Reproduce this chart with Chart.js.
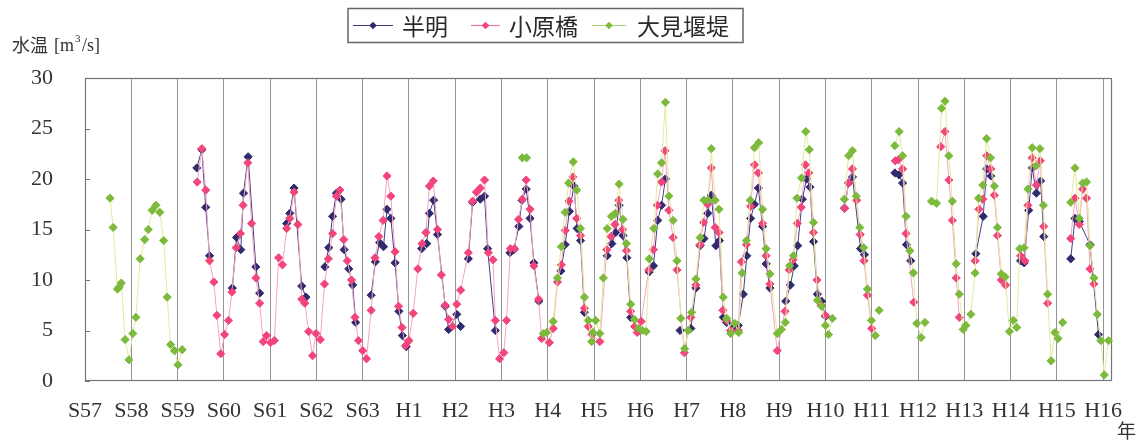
<!DOCTYPE html>
<html><head><meta charset="utf-8">
<script src="https://cdn.jsdelivr.net/npm/chart.js@4.4.1/dist/chart.umd.min.js"></script>
<style>html,body{margin:0;padding:0;background:#fff;}canvas{display:block;}</style>
</head><body>
<canvas id="c" width="1145" height="444"></canvas>
<script>
// x = months since start of S57, y = value
const categories = ['S57','S58','S59','S60','S61','S62','S63','H1','H2','H3','H4','H5','H6','H7','H8','H9','H10','H11','H12','H13','H14','H15','H16'];
const yTicks = [0,5,10,15,20,25,30];
const seriesNames = ['半明','小原橋','大見堰堤'];

const hanmeiMonth = [29.0,30.3,31.3,32.3,35,38.2,39.3,40.4,41.1,42.3,44.3,45.3,49,52.3,53.1,54.2,56.2,57.3,60,62.2,63.2,64.2,65.2,66.4,67.2,68.4,69.4,70.2,72,74.2,75.3,76.4,77.4,78.3,79.3,80.4,81.4,82.3,83.3,85,87.3,88.6,89.3,90.4,91.4,93.4,94.3,96.4,97.4,98.5,99.4,100.5,102.5,103.6,104.4,106.4,108,110.2,111.2,112.5,113.3,114.4,115.4,116.4,117.7,120,123.4,124.5,125.6,126.8,127.6,128.5,129.5,132,135.4,136.6,137.6,138.5,139.5,140.5,141.5,144,146.3,147.4,148.5,149.5,150.5,152,154.3,157.1,158.4,159.5,160.5,161.5,162.4,163.6,164.5,165.5,166.4,168.3,169.4,170.7,171.6,172.6,173.6,174.6,175.7,176.6,177.6,179.5,181.7,182.9,183.9,184.8,186.0,187.1,188.0,188.9,189.9,191.0,192.0,194,196.9,198.0,199.0,201.1,202.1,206,210.0,211.1,212.0,213.0,214.1,222,231.0,232.9,233.8,234.9,238,242.6,243.5,244.7,245.6,246.7,247.8,248.6,252,255.6,256.7,257.8,260.6,262.8];
const hanmeiTemp = [21.1,22.9,17.2,12.4,null,9.2,14.2,13.0,18.6,22.2,11.3,8.7,null,15.6,16.6,19.1,9.4,8.3,null,11.3,13.2,16.3,18.6,18.0,13.0,11.1,9.5,5.8,null,8.5,11.8,13.7,13.3,17.0,16.1,11.7,6.9,4.5,3.4,null,13.1,13.6,16.6,17.9,14.5,7.4,5.1,6.6,5.4,null,12.1,17.7,18.0,18.3,13.1,5.0,null,12.7,13.0,15.3,17.9,19.0,16.1,11.7,7.9,null,10.9,13.5,16.8,19.3,15.1,13.9,6.8,null,12.4,13.6,14.7,17.4,14.4,12.2,6.3,null,10.8,11.4,15.9,17.4,20.0,null,5.0,5.2,9.2,13.4,14.1,16.6,18.4,13.4,13.9,6.3,5.8,5.3,5.5,8.6,12.4,16.1,17.5,19.1,15.3,11.6,9.2,null,7.9,9.5,11.4,13.4,18.0,20.0,19.2,13.8,8.6,7.9,6.4,null,17.1,19.6,20.2,13.1,12.5,null,20.6,20.4,19.6,13.5,11.9,null,12.6,16.3,21.0,20.3,null,11.9,11.7,16.9,21.1,18.6,19.8,14.3,null,12.1,16.1,15.8,13.5,4.6];

const oharaMonth = [29.1,30.3,31.3,32.3,33.4,34.2,35.2,36.2,37.2,38.1,39.2,40.3,41.0,42.2,43.2,44.3,45.3,46.2,47.1,48.1,49.1,50.2,51.2,52.3,53.1,54.2,55.2,56.2,57.0,58.0,59.0,59.9,61.0,62.1,63.1,64.2,65.2,66.1,67.1,68.0,69.1,70.0,70.9,72.0,73.0,74.2,75.2,76.2,77.3,78.3,79.3,80.4,81.3,82.2,83.1,84.0,85.1,86.3,87.4,88.4,89.3,90.3,91.4,92.4,93.4,94.3,95.3,96.4,97.4,99.4,100.5,101.5,102.5,103.6,104.6,105.8,106.4,107.5,108.6,109.3,110.3,111.4,112.4,113.4,114.4,115.4,116.4,117.6,118.4,120.4,121.4,122.5,123.5,124.5,125.5,126.5,127.5,128.5,129.5,130.5,131.5,133.5,135.3,136.4,137.4,138.4,139.4,140.4,141.5,142.5,143.2,144.2,146.2,147.4,148.4,149.5,150.4,151.4,152.5,153.5,155.4,157.1,158.4,159.5,160.4,161.4,162.4,163.4,164.4,165.4,166.4,167.4,169.4,170.2,171.5,172.6,173.6,174.6,175.7,176.6,177.6,179.5,181.5,182.6,183.6,184.7,185.7,186.8,187.7,188.9,189.8,190.9,192.0,194,197.0,198.0,199.0,200.1,201.0,202.0,202.9,204.0,207,210.1,210.9,212.0,212.9,214.9,218,221.9,223.0,224.0,224.9,225.9,226.7,228.5,230.8,231.8,232.8,233.8,234.9,235.8,236.6,237.6,238.7,240.5,242.6,243.7,244.5,245.6,246.7,247.7,248.6,249.6,252,255.6,256.7,257.8,258.7,259.7,260.6,261.6];
const oharaTemp = [19.7,23.0,18.9,11.9,9.8,6.5,2.7,4.6,6.0,8.8,13.2,14.6,17.4,21.6,15.6,10.2,7.7,3.9,4.5,3.8,4.0,12.2,11.5,15.1,16.1,18.7,15.5,8.1,7.7,4.9,2.5,4.7,4.1,9.6,12.1,14.6,18.3,18.9,14.0,11.9,10.0,6.3,4.0,3.0,2.2,7.0,12.2,14.3,15.9,20.3,18.3,12.8,7.4,5.3,3.5,4.0,6.7,11.1,13.6,14.7,19.3,19.8,15.0,10.5,7.5,6.1,5.4,7.6,9.0,12.7,17.8,18.7,19.1,19.9,12.7,12.0,6.0,2.2,2.8,6.0,13.1,13.1,16.0,18.0,19.9,17.0,11.4,8.1,4.2,3.8,5.2,9.8,11.5,14.9,17.8,20.2,16.1,14.4,7.2,5.4,4.6,3.9,13.0,14.3,15.5,17.9,15.0,12.9,6.9,5.4,4.8,5.9,11.0,13.0,17.4,19.7,22.8,16.9,14.2,11.0,2.8,6.3,9.5,13.5,15.7,17.5,21.1,15.2,14.7,7.0,6.0,5.0,5.0,11.8,13.5,17.3,21.4,20.6,15.6,12.4,9.6,3.0,6.9,11.0,12.0,15.6,17.2,21.4,20.6,14.7,10.0,7.5,6.5,null,17.1,19.6,21.0,17.9,14.5,11.9,8.5,5.2,null,21.8,21.9,21.0,14.6,7.8,null,23.2,24.7,19.9,15.9,10.2,6.3,null,11.9,17.0,18.0,22.3,21.0,18.4,14.4,10.0,9.5,null,12.4,11.9,17.4,22.1,19.4,21.8,15.3,7.7,null,14.1,18.1,15.5,19.0,18.1,11.1,9.6];

const omiMonth = [6.5,7.3,8.4,8.9,9.4,10.4,11.4,12.4,13.2,14.3,15.5,16.4,17.4,18.4,19.4,20.4,21.3,22.2,23.2,24.1,25.2,60,113.4,114.5,116,118.8,119.7,121.4,122.5,123.5,124.5,125.4,126.6,127.5,128.5,129.5,130.5,131.4,131.7,132.4,133.5,134.4,135.4,136.5,137.5,138.5,139.5,140.4,141.5,142.5,143.5,144.5,145.5,146.3,147.5,148.5,149.5,150.5,151.4,152.5,153.5,154.5,155.5,156.4,157.3,158.4,159.5,160.5,161.6,162.4,163.4,164.4,165.5,166.4,167.4,168.5,169.5,170.4,171.5,172.5,173.6,174.7,175.7,176.6,177.6,179.5,180.6,181.6,182.7,183.7,184.6,185.8,186.9,187.8,188.9,189.9,191.0,192.0,192.8,193.8,195,196.9,198.0,199.0,200.0,200.9,201.9,202.9,203.9,204.9,205.4,205.9,208,210.0,211.1,212.0,212.9,213.9,214.8,215.7,216.8,217.8,218.6,219.5,220.8,222.1,223.0,224.0,224.9,225.9,226.7,227.7,228.4,229.7,230.8,231.7,232.8,233.8,234.8,235.8,236.6,237.6,238.6,239.7,240.7,241.6,242.4,243.5,244.5,245.6,246.6,247.6,248.5,249.6,250.5,251.5,252.3,253.5,254.5,255.6,256.7,257.8,258.7,259.7,260.6,261.6,262.5,263.4,264.3,265.4];
const omiTemp = [18.1,15.2,9.1,9.3,9.7,4.1,2.1,4.7,6.3,12.1,14.0,15.0,16.9,17.4,16.7,13.9,8.3,3.6,3.0,1.6,3.1,null,22.1,22.1,null,4.7,4.8,5.9,10.2,13.3,16.7,19.6,21.7,18.9,15.1,8.3,6.0,3.9,4.8,6.0,4.7,10.2,15.1,16.3,16.6,19.5,16.0,13.6,7.6,6.1,5.2,5.0,4.9,12.1,15.1,20.5,21.6,27.6,18.3,15.9,11.9,6.2,3.2,5.0,6.8,10.1,14.2,17.9,17.9,23.0,17.9,17.0,8.3,6.2,4.7,5.7,4.8,10.7,13.9,17.9,23.1,23.6,17.0,13.1,10.6,4.7,5.1,5.8,11.4,12.4,18.1,20.1,24.7,22.9,15.7,8.0,7.4,5.5,4.6,6.2,null,18.0,22.3,22.8,18.3,15.2,13.2,9.1,6.0,4.5,null,7.0,null,23.3,24.7,22.3,16.3,12.9,10.7,5.7,4.3,5.8,null,17.8,17.6,27.0,27.7,22.3,17.8,11.6,8.6,5.1,5.5,6.6,10.7,18.1,19.4,24.0,22.1,19.3,15.2,10.6,10.3,4.9,6.0,5.3,13.1,13.2,19.0,23.1,21.3,23.0,17.4,8.6,2.0,4.8,4.2,5.8,null,17.7,21.1,16.1,19.6,19.7,13.4,10.2,6.6,4.0,0.6,4.0];

const xMaxMonth = 266.3;

function pts(xs, ys){ return xs.map((x,i)=>({x:x, y:ys[i]})); }

const serifFont = '"Liberation Serif", "DejaVu Serif", serif';
const cjkFont = '"Noto Sans CJK JP", "Noto Sans", sans-serif';

function ds(label, xs, ys, lineColor, markColor, order){
  return {label, data: pts(xs, ys), showLine: true, spanGaps: false,
    borderColor: lineColor, borderWidth: 1, backgroundColor: markColor,
    pointStyle: 'rectRot', pointRadius: 4.1, pointBorderWidth: 1,
    pointBackgroundColor: markColor, pointBorderColor: markColor,
    order, clip: 8};
}

const colors = [
  {line:'#3f3d86', mark:'#2f2c6e'},
  {line:'#f7a3c0', mark:'#f2457c'},
  {line:'#e2eb98', mark:'#7cba3c'}
];

const decor = {
  id:'decor',
  beforeDatasetsDraw(chart){
    const {ctx, chartArea:a, scales:{y}} = chart;
    ctx.save();
    ctx.strokeStyle = '#777';
    ctx.lineWidth = 1.2;
    ctx.strokeRect(a.left+0.5, a.top+0.5, a.right-a.left-1, a.bottom-a.top-1);
    ctx.beginPath();
    yTicks.forEach(v=>{ const py = Math.round(y.getPixelForValue(v))+0.5; ctx.moveTo(a.left, py); ctx.lineTo(a.left+5, py); });
    ctx.stroke();
    ctx.restore();
  },
  afterDraw(chart){
    const ctx = chart.ctx;
    ctx.save();
    ctx.fillStyle = '#333';
    ctx.textBaseline = 'middle';
    ctx.font = '18px ' + cjkFont;
    ctx.fillText('水温', 12, 45);
    ctx.font = '18px ' + serifFont;
    ctx.fillText('[m', 54, 46);
    const w1 = ctx.measureText('[m').width;
    ctx.font = '11px ' + serifFont;
    ctx.fillText('3', 54 + w1 + 1, 39);
    ctx.font = '18px ' + serifFont;
    ctx.fillText('/s]', 54 + w1 + 8, 46);
    ctx.font = '19px ' + cjkFont;
    ctx.fillText('年', 1117, 431);
    // legend
    ctx.strokeStyle = '#666';
    ctx.lineWidth = 1.5;
    ctx.strokeRect(348, 8.5, 395, 34);
    const items = [{x0:353,x1:393,t:402},{x0:471,x1:500,t:509},{x0:592,x1:626,t:637}];
    ctx.font = '23px ' + cjkFont;
    items.forEach((it,i)=>{
      const c = colors[i];
      ctx.strokeStyle = i===0 ? c.line : (i===1 ? '#f27aa3' : '#a9d46a');
      ctx.lineWidth = 1.2;
      ctx.beginPath(); ctx.moveTo(it.x0, 25.5); ctx.lineTo(it.x1, 25.5); ctx.stroke();
      const mx = (it.x0+it.x1)/2, my = 25.5, r = 3.8;
      ctx.fillStyle = c.mark;
      ctx.beginPath(); ctx.moveTo(mx-r,my); ctx.lineTo(mx,my-r); ctx.lineTo(mx+r,my); ctx.lineTo(mx,my+r); ctx.closePath(); ctx.fill();
      ctx.fillStyle = '#2a2a2a';
      ctx.fillText(seriesNames[i], it.t, 26);
    });
    ctx.restore();
  }
};

new Chart(document.getElementById('c'), {
  type: 'scatter',
  data: { datasets: [
    ds(seriesNames[0], hanmeiMonth, hanmeiTemp, colors[0].line, colors[0].mark, 3),
    ds(seriesNames[1], oharaMonth, oharaTemp, colors[1].line, colors[1].mark, 2),
    ds(seriesNames[2], omiMonth, omiTemp, colors[2].line, colors[2].mark, 1)
  ]},
  options: {
    responsive: false, animation: false, devicePixelRatio: 1,
    layout: {padding: {left: 0, right: 33, top: 78, bottom: 0}},
    plugins: {legend: {display: false}, tooltip: {enabled: false}},
    scales: {
      x: {
        type: 'linear', min: 0, max: xMaxMonth,
        afterBuildTicks: s => { s.ticks = categories.map((c,i)=>({value: i*12})); },
        ticks: {callback: v => categories[Math.round(v/12)], autoSkip: false, maxRotation: 0, padding: 17,
          color: '#333', font: {family: serifFont, size: 22}},
        grid: {color: '#939393', lineWidth: 1, drawTicks: false},
        border: {display: false},
        afterFit: s => { s.height = 63; }
      },
      y: {
        min: 0, max: 30,
        afterBuildTicks: s => { s.ticks = yTicks.map(v=>({value:v})); },
        ticks: {padding: 32, color: '#333', font: {family: serifFont, size: 22}},
        grid: {display: false, drawTicks: false},
        border: {display: false},
        afterFit: s => { s.width = 85; }
      }
    }
  },
  plugins: [decor]
});
</script>
</body></html>
